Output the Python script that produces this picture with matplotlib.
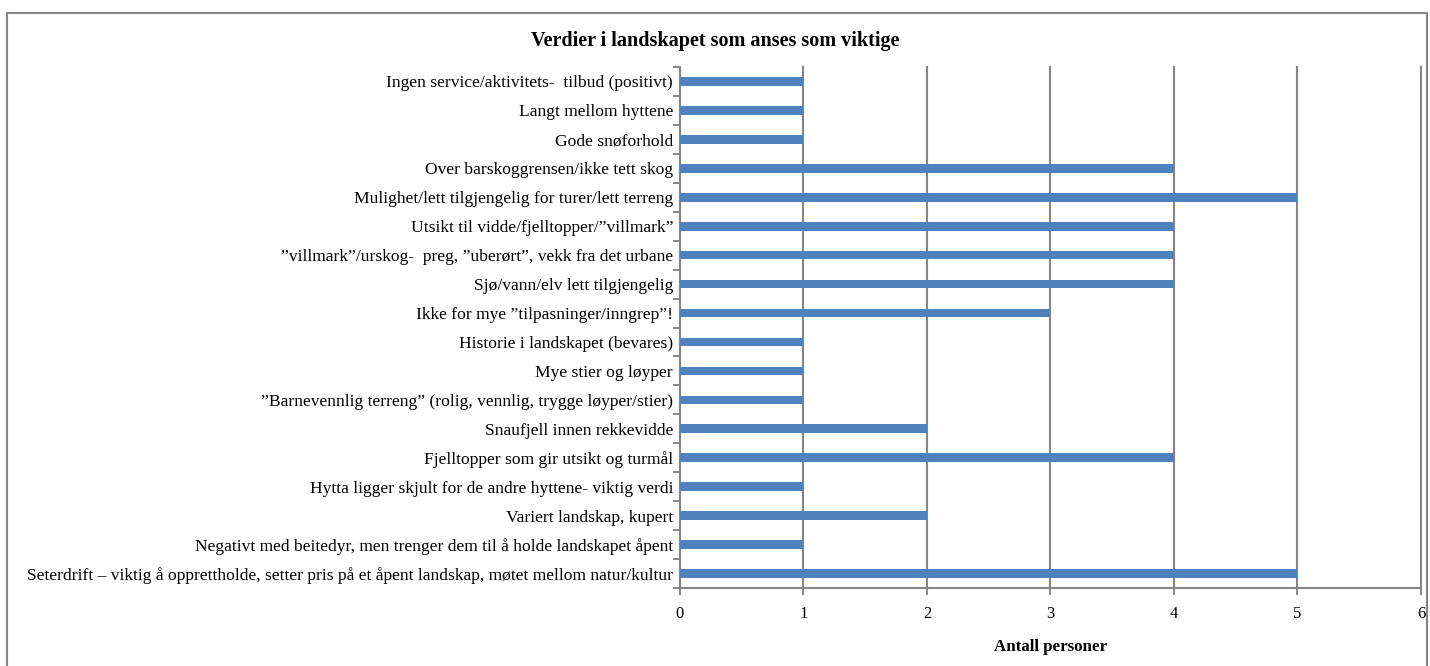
import matplotlib.pyplot as plt
from matplotlib.patches import Rectangle
from matplotlib.ticker import FixedLocator

plt.rcParams['font.family'] = ['Liberation Serif', 'DejaVu Serif']

kategorier = [
    'Ingen service/aktivitets-  tilbud (positivt)',
    'Langt mellom hyttene',
    'Gode snøforhold',
    'Over barskoggrensen/ikke tett skog',
    'Mulighet/lett tilgjengelig for turer/lett terreng',
    'Utsikt til vidde/fjelltopper/”villmark”',
    '”villmark”/urskog-  preg, ”uberørt”, vekk fra det urbane',
    'Sjø/vann/elv lett tilgjengelig',
    'Ikke for mye ”tilpasninger/inngrep”!',
    'Historie i landskapet (bevares)',
    'Mye stier og løyper',
    '”Barnevennlig terreng” (rolig, vennlig, trygge løyper/stier)',
    'Snaufjell innen rekkevidde',
    'Fjelltopper som gir utsikt og turmål',
    'Hytta ligger skjult for de andre hyttene- viktig verdi',
    'Variert landskap, kupert',
    'Negativt med beitedyr, men trenger dem til å holde landskapet åpent',
    'Seterdrift – viktig å opprettholde, setter pris på et åpent landskap, møtet mellom natur/kultur',
]
antall = [1, 1, 1, 4, 5, 4, 4, 4, 3, 1, 1, 1, 2, 4, 1, 2, 1, 5]
x_ticks = [0, 1, 2, 3, 4, 5, 6]

gra = '#868686'
bla = '#4F81BD'

fig = plt.figure(figsize=(14.3, 6.66), dpi=100)
ax = fig.add_axes([0.4755, 0.1171, 0.5182, 0.7823])

n = len(kategorier)
y = list(range(n - 1, -1, -1))
ax.barh(y, antall, height=0.3, color=bla, zorder=3)

ax.set_xlim(0, 6)
ax.set_ylim(-0.5, n - 0.5)
ax.set_xticks(x_ticks)
ax.set_xticklabels([str(v) for v in x_ticks], fontsize=12)
ax.set_yticks(y)
ax.set_yticklabels(kategorier, fontsize=12.6)
ax.yaxis.set_minor_locator(FixedLocator([k - 0.5 for k in range(n + 1)]))
ax.tick_params(axis='y', which='major', length=0, pad=5)
ax.tick_params(axis='y', which='minor', length=5, width=1.4, color=gra, direction='out')
ax.tick_params(axis='x', length=5, width=1.4, color=gra, direction='out', pad=8)

for linje in ax.xaxis.get_gridlines():
    linje.set_clip_on(False)
ax.grid(axis='x', color=gra, linewidth=1.5)
ax.set_axisbelow(True)
for side in ['top', 'right']:
    ax.spines[side].set_visible(False)
for side in ['left', 'bottom']:
    ax.spines[side].set_color(gra)
    ax.spines[side].set_linewidth(1.5)

ax.set_xlabel('Antall personer', fontsize=12.2, fontweight='bold', labelpad=12)
fig.text(0.5, 0.938, 'Verdier i landskapet som anses som viktige',
         ha='center', va='center', fontsize=14.5, fontweight='bold')

ramme = Rectangle((7 / 1430, -0.01), 1420 / 1430, 1 - 13 / 666 + 0.01,
                  transform=fig.transFigure, fill=False, edgecolor=gra,
                  linewidth=1.5, clip_on=False)
fig.patches.append(ramme)

fig.savefig('out.png', dpi=100)
